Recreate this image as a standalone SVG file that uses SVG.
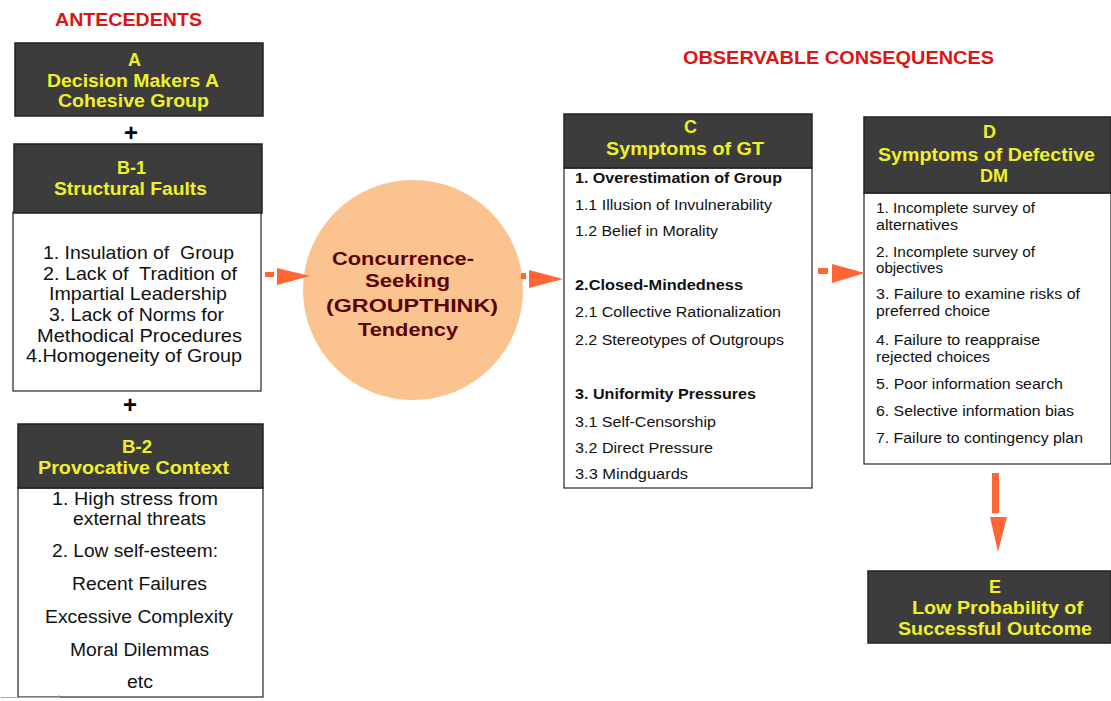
<svg xmlns="http://www.w3.org/2000/svg" width="1111" height="701" viewBox="0 0 1111 701">
<style>
text{font-family:"Liberation Sans",Arial,sans-serif}
.hdr{fill:#3c3c3c;stroke:#222;stroke-width:1.5}
.body{fill:#fff;stroke:#222;stroke-width:1.2}
.ht{font-weight:bold;font-size:18px;fill:#f0f02a}
.red{font-weight:bold;font-size:17.5px;fill:#dd1414}
.bt{font-size:19px;fill:#111}
.b2{font-size:17.5px;fill:#111}
.ct{font-size:14px;fill:#111}
.cb{font-weight:bold}
.dt{font-size:14px;fill:#111}
.gt{font-weight:bold;font-size:19px;fill:#5a0505}
.plus{font-weight:bold;font-size:24px;fill:#000;text-anchor:middle}
.arr{fill:#ff6633}
</style>
<rect width="1111" height="701" fill="#fff"/>
<text class="red" x="55" y="26" textLength="147" lengthAdjust="spacingAndGlyphs">ANTECEDENTS</text>
<text class="red" x="683" y="64" textLength="311" lengthAdjust="spacingAndGlyphs">OBSERVABLE CONSEQUENCES</text>

<g id="nodeA">
<rect class="hdr" x="15" y="43" width="248" height="73"/>
<text class="ht" x="128" y="66">A</text>
<text class="ht" x="47" y="87" textLength="172" lengthAdjust="spacingAndGlyphs">Decision Makers A</text>
<text class="ht" x="58" y="107" textLength="151" lengthAdjust="spacingAndGlyphs">Cohesive Group</text>
</g>
<text class="plus" x="131" y="141">+</text>

<g id="nodeB1">
<rect class="body" x="13" y="212" width="248" height="179"/>
<rect class="hdr" x="14" y="144" width="248" height="69"/>
<text class="ht" x="117" y="174" textLength="29" lengthAdjust="spacingAndGlyphs">B-1</text>
<text class="ht" x="54" y="195" textLength="153" lengthAdjust="spacingAndGlyphs">Structural Faults</text>
<text class="bt" x="43" y="259" textLength="191" lengthAdjust="spacingAndGlyphs" xml:space="preserve">1. Insulation of  Group</text>
<text class="bt" x="43" y="280" textLength="194" lengthAdjust="spacingAndGlyphs" xml:space="preserve">2. Lack of  Tradition of</text>
<text class="bt" x="49" y="300" textLength="178" lengthAdjust="spacingAndGlyphs">Impartial Leadership</text>
<text class="bt" x="49" y="321" textLength="175" lengthAdjust="spacingAndGlyphs">3. Lack of Norms for</text>
<text class="bt" x="37" y="342" textLength="205" lengthAdjust="spacingAndGlyphs">Methodical Procedures</text>
<text class="bt" x="26" y="362" textLength="216" lengthAdjust="spacingAndGlyphs">4.Homogeneity of Group</text>
</g>
<text class="plus" x="130" y="413">+</text>

<g id="nodeB2">
<rect class="body" x="18" y="488" width="245" height="209"/>
<rect class="hdr" x="18" y="424" width="245" height="64"/>
<text class="ht" x="122" y="453" textLength="30" lengthAdjust="spacingAndGlyphs">B-2</text>
<text class="ht" x="38" y="474" textLength="191" lengthAdjust="spacingAndGlyphs">Provocative Context</text>
<text class="b2" x="52" y="505" textLength="166" lengthAdjust="spacingAndGlyphs">1. High stress from</text>
<text class="b2" x="73" y="525" textLength="133" lengthAdjust="spacingAndGlyphs">external threats</text>
<text class="b2" x="52" y="557" textLength="166" lengthAdjust="spacingAndGlyphs">2. Low self-esteem:</text>
<text class="b2" x="72" y="590" textLength="135" lengthAdjust="spacingAndGlyphs">Recent Failures</text>
<text class="b2" x="45" y="623" textLength="188" lengthAdjust="spacingAndGlyphs">Excessive Complexity</text>
<text class="b2" x="70" y="656" textLength="139" lengthAdjust="spacingAndGlyphs">Moral Dilemmas</text>
<text class="b2" x="127" y="688" textLength="26" lengthAdjust="spacingAndGlyphs">etc</text>
<polyline points="1,697.5 59,697.5 59,695" fill="none" stroke="#aaa" stroke-width="1"/>
</g>

<g id="nodeGT">
<circle cx="413" cy="290" r="110" fill="#fbc390"/>
<text class="gt" x="332" y="265" textLength="142" lengthAdjust="spacingAndGlyphs">Concurrence-</text>
<text class="gt" x="365" y="287" textLength="85" lengthAdjust="spacingAndGlyphs">Seeking</text>
<text class="gt" x="326" y="312" textLength="172" lengthAdjust="spacingAndGlyphs">(GROUPTHINK)</text>
<text class="gt" x="358" y="336" textLength="100" lengthAdjust="spacingAndGlyphs">Tendency</text>
</g>

<g id="nodeC">
<rect class="body" x="564" y="168" width="248" height="320"/>
<rect class="hdr" x="564" y="114" width="248" height="54"/>
<text class="ht" x="684" y="133">C</text>
<text class="ht" x="606" y="155" textLength="158" lengthAdjust="spacingAndGlyphs">Symptoms of GT</text>
<text class="ct cb" x="575" y="183" textLength="207" lengthAdjust="spacingAndGlyphs">1. Overestimation of Group</text>
<text class="ct" x="575" y="210" textLength="197" lengthAdjust="spacingAndGlyphs">1.1 Illusion of Invulnerability</text>
<text class="ct" x="575" y="236" textLength="143" lengthAdjust="spacingAndGlyphs">1.2 Belief in Morality</text>
<text class="ct cb" x="575" y="290" textLength="168" lengthAdjust="spacingAndGlyphs">2.Closed-Mindedness</text>
<text class="ct" x="575" y="317" textLength="206" lengthAdjust="spacingAndGlyphs">2.1 Collective Rationalization</text>
<text class="ct" x="575" y="345" textLength="209" lengthAdjust="spacingAndGlyphs">2.2 Stereotypes of Outgroups</text>
<text class="ct cb" x="575" y="399" textLength="181" lengthAdjust="spacingAndGlyphs">3. Uniformity Pressures</text>
<text class="ct" x="575" y="427" textLength="141" lengthAdjust="spacingAndGlyphs">3.1 Self-Censorship</text>
<text class="ct" x="575" y="453" textLength="138" lengthAdjust="spacingAndGlyphs">3.2 Direct Pressure</text>
<text class="ct" x="575" y="479" textLength="113" lengthAdjust="spacingAndGlyphs">3.3 Mindguards</text>
</g>

<g id="nodeD">
<rect class="body" x="864" y="193" width="247" height="271"/>
<rect class="hdr" x="864" y="117" width="247" height="76"/>
<text class="ht" x="983" y="138">D</text>
<text class="ht" x="878" y="161" textLength="217" lengthAdjust="spacingAndGlyphs">Symptoms of Defective</text>
<text class="ht" x="980" y="182">DM</text>
<text class="dt" x="876" y="213" textLength="159" lengthAdjust="spacingAndGlyphs">1. Incomplete survey of</text>
<text class="dt" x="876" y="230" textLength="82" lengthAdjust="spacingAndGlyphs">alternatives</text>
<text class="dt" x="876" y="257" textLength="159" lengthAdjust="spacingAndGlyphs">2. Incomplete survey of</text>
<text class="dt" x="876" y="273" textLength="67" lengthAdjust="spacingAndGlyphs">objectives</text>
<text class="dt" x="876" y="299" textLength="204" lengthAdjust="spacingAndGlyphs">3. Failure to examine risks of</text>
<text class="dt" x="876" y="316" textLength="114" lengthAdjust="spacingAndGlyphs">preferred choice</text>
<text class="dt" x="876" y="345" textLength="164" lengthAdjust="spacingAndGlyphs">4. Failure to reappraise</text>
<text class="dt" x="876" y="362" textLength="114" lengthAdjust="spacingAndGlyphs">rejected choices</text>
<text class="dt" x="876" y="389" textLength="187" lengthAdjust="spacingAndGlyphs">5. Poor information search</text>
<text class="dt" x="876" y="416" textLength="198" lengthAdjust="spacingAndGlyphs">6. Selective information bias</text>
<text class="dt" x="876" y="443" textLength="207" lengthAdjust="spacingAndGlyphs">7. Failure to contingency plan</text>
</g>

<g id="nodeE">
<rect class="hdr" x="868" y="571" width="243" height="72"/>
<text class="ht" x="989" y="593">E</text>
<text class="ht" x="912" y="614" textLength="171" lengthAdjust="spacingAndGlyphs">Low Probability of</text>
<text class="ht" x="898" y="635" textLength="194" lengthAdjust="spacingAndGlyphs">Successful Outcome</text>
</g>

<g id="connectors">
<rect class="arr" x="265" y="272" width="9" height="5"/>
<polygon class="arr" points="277,268 310,276 277,285"/>
<rect class="arr" x="521" y="273" width="5" height="6"/>
<polygon class="arr" points="529,270 563,279 529,288"/>
<rect class="arr" x="818" y="268" width="10" height="6"/>
<polygon class="arr" points="832,264 865,273 832,283"/>
<rect class="arr" x="992" y="473" width="7" height="40"/>
<polygon class="arr" points="990,517 1007,517 998,552"/>
</g>
</svg>
